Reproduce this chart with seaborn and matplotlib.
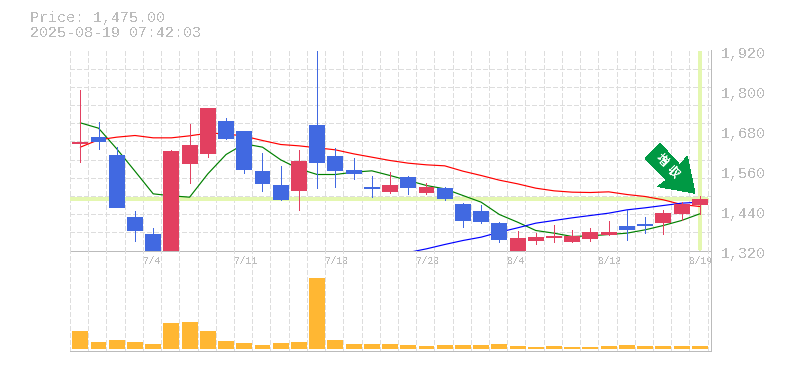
import numpy as np
import pandas as pd
import seaborn as sns
import matplotlib.pyplot as plt
from matplotlib.patches import Polygon
from matplotlib.transforms import ScaledTranslation

open_price = [1639, 1659, 1608, 1422, 1371, 1320, 1578, 1608, 1707, 1677, 1560, 1518,
               1500, 1695, 1602, 1560, 1512, 1497, 1542, 1494, 1509, 1461, 1440, 1404,
               1320, 1350, 1359, 1347, 1356, 1368, 1395, 1401, 1404, 1431, 1458]
close_price = [1647, 1644, 1449, 1380, 1317, 1620, 1635, 1746, 1653, 1560, 1521, 1473,
                1590, 1581, 1557, 1548, 1506, 1518, 1509, 1512, 1476, 1410, 1407, 1353,
                1359, 1362, 1365, 1365, 1377, 1377, 1383, 1395, 1434, 1461, 1475]
high_price = [1800, 1704, 1629, 1437, 1386, 1620, 1698, 1746, 1716, 1677, 1611, 1572,
               1620, 1920, 1626, 1596, 1542, 1554, 1542, 1521, 1509, 1461, 1455, 1404,
               1377, 1371, 1395, 1380, 1386, 1407, 1440, 1419, 1440, 1464, 1482]
low_price = [1585, 1623, 1449, 1348, 1317, 1320, 1521, 1599, 1653, 1551, 1497, 1470,
              1440, 1506, 1509, 1536, 1479, 1491, 1488, 1488, 1470, 1389, 1401, 1344,
              1320, 1338, 1344, 1344, 1347, 1365, 1350, 1371, 1368, 1410, 1428]
ma_short = [1703, 1687, 1625, 1558, 1490, 1484, 1480, 1550, 1608, 1640, 1630, 1592,
            1565, 1548, 1548, 1555, 1559, 1545, 1530, 1515, 1505, 1485, 1465, 1428,
            1405, 1380, 1372, 1362, 1364, 1368, 1372, 1382, 1395, 1410, 1430]
ma_mid = [1630, 1652, 1660, 1665, 1658, 1658, 1664, 1672, 1670, 1663, 1650, 1638,
          1634, 1628, 1622, 1610, 1600, 1590, 1582, 1577, 1574, 1558, 1545, 1531,
          1520, 1507, 1499, 1495, 1494, 1496, 1488, 1482, 1472, 1458, 1452]
ma_long = [np.nan] * 18 + [1314, 1325, 1338, 1350, 1360, 1375, 1388, 1402, 1410, 1418,
                           1425, 1432, 1442, 1448, 1455, 1462, 1465]
volume = [54, 21, 27, 21, 15, 78, 81, 54, 24, 18, 12, 18, 21, 213, 27, 15, 15, 15,
          12, 9, 12, 12, 12, 15, 9, 6, 9, 6, 6, 9, 12, 9, 9, 9, 9]
date_labels = ["7/4", "7/11", "7/18", "7/28", "8/4", "8/12", "8/19"]
date_days = [4, 9, 14, 19, 24, 29, 34]
price_ticks = [1320, 1440, 1560, 1680, 1800, 1920]
last_price = 1475
last_day = 34

RED = "#e24060"
BLUE = "#4169e1"
GRAY = "#bbbbbb"
GRID = "#dddddd"
LIME = "#e4f7b0"
MONO = "Liberation Mono"

sns.set_style("white")
plt.rcParams["font.family"] = [MONO, "Noto Sans CJK JP"]
plt.rcParams["text.antialiased"] = False
plt.rcParams["lines.antialiased"] = False
plt.rcParams["patch.antialiased"] = False

df = pd.DataFrame({
    "day": range(35), "open": open_price, "close": close_price,
    "high": high_price, "low": low_price, "ma_short": ma_short,
    "ma_mid": ma_mid, "ma_long": ma_long, "volume": volume,
})
df["body_low"] = df[["open", "close"]].min(axis=1)
df["body_size"] = (df["open"] - df["close"]).abs()
df["up"] = df["close"] >= df["open"]

W, H = 785, 370
fig = plt.figure(figsize=(W / 100, H / 100), dpi=100)
left, right = 70, 710.5
ax = fig.add_axes([left / W, 1 - 250.5 / H, (right - left) / W, 200 / H])
ax2 = fig.add_axes([left / W, 1 - 350.5 / H, (right - left) / W, 100 / H], sharex=ax)

# reference lines and moving averages sit behind the candles
ax.axhline(last_price, xmax=0.995, color=LIME, lw=1.6, zorder=1.5)
ax.axvline(last_day, ymin=0.01, color=LIME, lw=1.6, zorder=1.5)
for col, c in [("ma_short", "green"), ("ma_mid", "red"), ("ma_long", "blue")]:
    sns.lineplot(data=df, x="day", y=col, color=c, lw=0.85, antialiased=True, ax=ax, zorder=2)

# wicks
for up, c in [(True, RED), (False, BLUE)]:
    sub = df[df["up"] == up]
    ax.vlines(sub["day"], sub["low"], sub["high"], color=c, lw=0.5,
              antialiased=False, zorder=3)
    sns.barplot(data=sub, x="day", y="body_size", bottom=sub["body_low"].values,
                native_scale=True, color=c, saturation=1, width=0.875, linewidth=0,
                errorbar=None, ax=ax, zorder=4)

sns.barplot(data=df, x="day", y="volume", native_scale=True, color="#ffb733",
            saturation=1, width=0.875, linewidth=0, errorbar=None, ax=ax2, zorder=3)

# pixel x = 80.3 + 18.22 * day
x0 = (left - 80.3) / 18.22
x1 = (right - 80.3) / 18.22
grid_x = [(70 + 18.22 * k - 80.3) / 18.22 for k in range(36)]

ax.set_xlim(x0, x1)
ax.set_ylim(1320, 1920)
ax2.set_ylim(-6, 294)

ax.set_xticks(grid_x)
ax.set_xticklabels([date_labels[date_days.index(k)] if k in date_days else "" for k in range(36)],
                   ha="left", fontsize=6.9, color=GRAY)
ax.set_yticks(np.linspace(1320, 1920, 12), minor=True)
ax.yaxis.tick_right()
ax.set_yticks(price_ticks)
ax.set_yticklabels([f"{p:,}" for p in price_ticks], fontsize=10.8, color=GRAY)
ax.tick_params(axis="y", which="both", length=0, pad=7.2)
ax.tick_params(axis="x", length=0, pad=4)
offset = ScaledTranslation(0, -1.5 / 72, fig.dpi_scale_trans)
for lab in ax.get_yticklabels():
    lab.set_transform(lab.get_transform() + offset)

dash = (0, (6, 4))
ax.grid(True, axis="x", color=GRID, ls=dash, lw=0.5)
ax.grid(True, axis="y", which="minor", color=GRID, ls=dash, lw=0.5)
ax.grid(False, axis="y", which="major")
ax2.grid(True, axis="x", color=GRID, ls=dash, lw=0.5)
ax2.grid(False, axis="y")
ax.set_axisbelow(True)
ax2.set_axisbelow(True)
ax.set_xlabel("")
ax.set_ylabel("")
ax2.set_xlabel("")
ax2.set_ylabel("")
ax2.set_yticks([])
ax2.tick_params(axis="x", length=0, labelbottom=False)
ax.patch.set_alpha(0)
ax2.patch.set_alpha(0)

for a in (ax, ax2):
    for side in ("top", "left"):
        a.spines[side].set_visible(False)
    for side in ("right", "bottom"):
        a.spines[side].set_color(GRAY)
        a.spines[side].set_linewidth(0.7)

# price caption
fig.text(30 / W, 1 - 18 / H, "Price: 1,475.00", fontsize=10.8, color=GRAY, va="center")
fig.text(30 / W, 1 - 33 / H, "2025-08-19 07:42:03", fontsize=10.8, color=GRAY, va="center")

# green badge arrow, in pixels
badge = [(660, 143.3), (645, 158.3), (666.5, 180), (657.5, 186.5),
         (695, 193.3), (687.3, 156), (680, 165)]
fig.add_artist(Polygon([(x / W, 1 - y / H) for x, y in badge], closed=True,
                       facecolor="#009944", edgecolor="none", transform=fig.transFigure, zorder=6))
for (tx, ty), ch in zip([(661.7, 160), (673.3, 171.7)], "増収"):
    fig.text(tx / W, 1 - ty / H, ch, fontsize=8.5, color="white", rotation=-45, weight="bold",
             family="Noto Sans CJK JP", ha="center", va="center", rotation_mode="anchor", zorder=7)

fig.savefig("out.png", dpi=100)
